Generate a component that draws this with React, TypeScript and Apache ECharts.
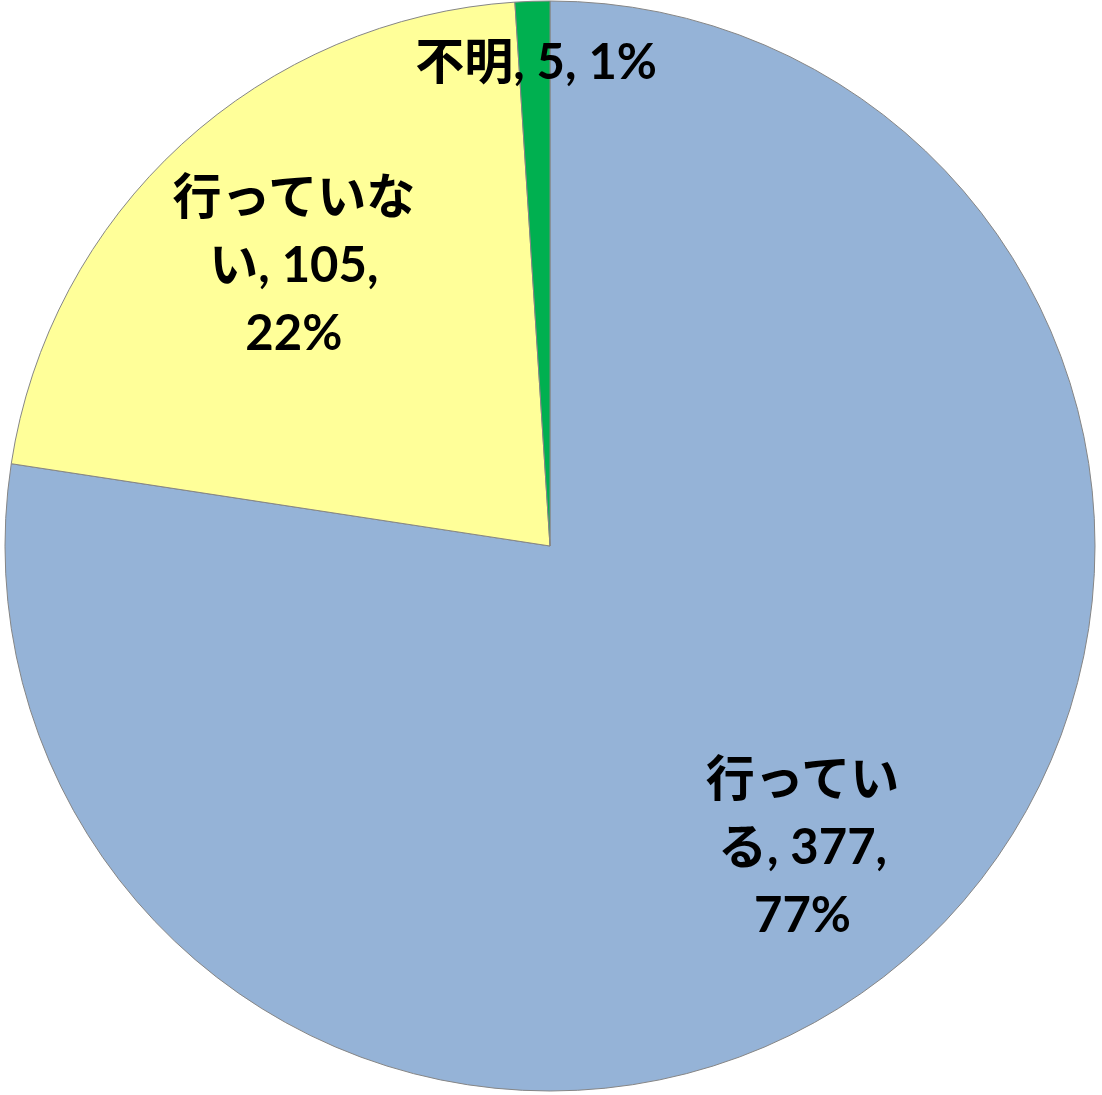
import React, { useEffect, useRef } from "react";
import * as echarts from "echarts";

const categories = ["行っている", "行っていない", "不明"];
const values = [377, 105, 5];
const percents = ["77%", "22%", "1%"];
const labelTexts = ["行ってい\nる, 377,\n77%", "行っていな\nい, 105,\n22%", "不明, 5, 1%"];
const colors = ["#95B3D7", "#FFFF99", "#00B050"];
const labelShifts = [
  [73, 90],
  [-70, -80],
  [-5, -211],
];

export default function App() {
  const ref = useRef<HTMLDivElement>(null);
  useEffect(() => {
    document.body.style.margin = "0";
    const chart = echarts.init(ref.current!, null, { renderer: "svg" });
    chart.setOption({
      animation: false,
      series: [
        {
          type: "pie",
          center: [550, 546],
          radius: 545,
          startAngle: 90,
          clockwise: true,
          avoidLabelOverlap: false,
          itemStyle: { borderColor: "#868686", borderWidth: 1 },
          label: {
            show: true,
            position: "inside",
            color: "#000",
            fontWeight: "bold",
            fontSize: 49,
            lineHeight: 68,
            fontFamily: "Lato, 'Noto Sans CJK JP', sans-serif",
            align: "center",
            formatter: (p: any) => labelTexts[p.dataIndex],
          },
          labelLayout: (p: any) => ({
            dx: labelShifts[p.dataIndex][0],
            dy: labelShifts[p.dataIndex][1],
          }),
          emphasis: { disabled: true },
          data: categories.map((c, i) => ({
            name: c,
            value: values[i],
            itemStyle: { color: colors[i] },
          })),
        },
      ],
    });
    return () => chart.dispose();
  }, []);
  return <div ref={ref} style={{ width: 1102, height: 1095 }} />;
}
